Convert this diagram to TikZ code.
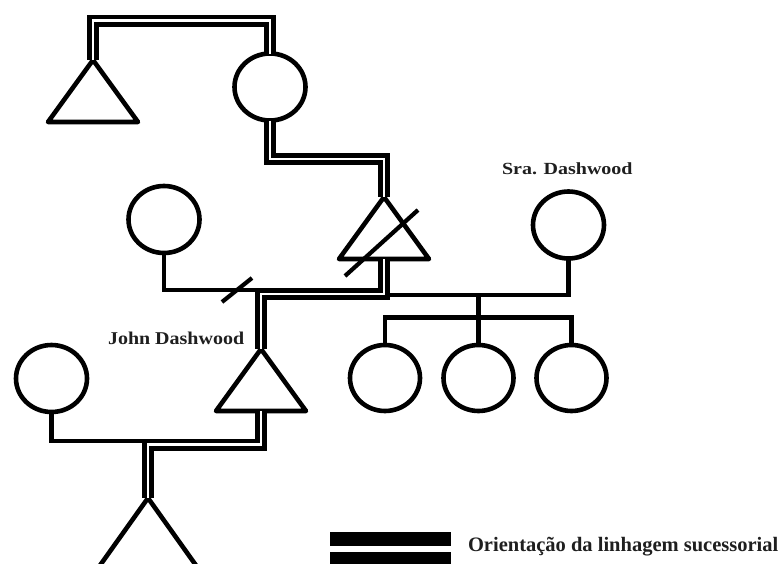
\documentclass[tikz,border=0pt]{standalone}
\usepackage{fontspec}
\usepackage{graphicx}
\setmainfont{Liberation Serif}
\usetikzlibrary{shapes.geometric,calc}
\begin{document}
\begin{tikzpicture}[x=1pt,y=-1pt,
  every node/.style={inner sep=0pt, outer sep=0pt},
  person/.style={draw=black, line width=4.6pt},
  female/.style={person, ellipse, minimum width=71pt, minimum height=67pt},
  male/.style={person, isosceles triangle, isosceles triangle stretches,
    shape border rotate=90, minimum width=90pt, minimum height=62pt,
    anchor=apex, line join=round},
  sgl/.style={line width=4.6pt, line join=miter},
  dbl/.style={line width=4.8pt, double=white, double distance=2.4pt, line join=miter},
  slash/.style={line width=4.2pt},
  lbl/.style={font=\fontsize{20}{24}\selectfont\bfseries, text=black!88, anchor=base west}]
\fill[white] (0,0) rectangle (780,563);
\clip (0,0) rectangle (780,563);
% persons
\node[male] (tl) at (93,60) {};
\node[female] (tc) at (270,87) {};
\node[female] (cl) at (164,219.5) {};
\node[male] (tf) at (384,197) {};
\node[female] (sra) at (568.5,225) {};
\node[female, minimum width=70pt, minimum height=66pt] (d1) at (385,378) {};
\node[female, minimum width=70pt, minimum height=66pt] (d2) at (478.5,378) {};
\node[female, minimum width=70pt, minimum height=66pt] (d3) at (571.5,378) {};
\node[female] (cb) at (51.5,378.5) {};
\node[male] (tj) at (261,349) {};
\node[male, minimum width=104pt, minimum height=73pt] (ts) at (148,498) {};
% junction points
\coordinate (k1) at (261,290);
\coordinate (k2) at (384,295);
\coordinate (k3) at (478.5,295);
\coordinate (k4) at (478.5,317.5);
\coordinate (k5) at (148,441);
\coordinate (j1) at (93,20.5);
\coordinate (j2) at (270,159);
\coordinate (j3) at (384,294);
\coordinate (j4) at (261,444.5);
\coordinate (tfb) at ($(tf.left corner)!0.5!(tf.right corner)$);
\coordinate (tjb) at ($(tj.left corner)!0.5!(tj.right corner)$);
% single lines
\draw[sgl] (cl.south) |- (k1);
\draw[sgl] (sra.south) |- (k2);
\draw[sgl] (k3) -- (k4);
\draw[sgl] (d1.north) |- (k4) -| (d3.north);
\draw[sgl] (k4) -- (d2.north);
\draw[sgl] (cb.south) |- (k5);
% double lines (succession)
\draw[dbl] (tl.apex) -- (j1) -| (tc.north);
\draw[dbl] (tc.south) -- (j2) -| (tf.apex);
\draw[dbl] (tfb) -- (j3) -| (tj.apex);
\draw[dbl] (tjb) -- (j4) -| (ts.apex);
% slashes
\draw[slash] (222,302) -- (252,278);
\draw[slash] (345,276) -- (418,210);
% labels
\node[lbl] (sraL) at (502,174) {\scalebox{1}[0.85]{Sra. Dashwood}};
\node[lbl] (johnL) at (108,344) {\scalebox{1}[0.9]{John Dashwood}};
% legend
\fill (330,532) rectangle (451,546);
\fill (330,552) rectangle (451,570);
\node[lbl, font=\fontsize{20.5}{24}\selectfont\bfseries] (leg) at (468,551) {Orientação da linhagem sucessorial};
\end{tikzpicture}
\end{document}
